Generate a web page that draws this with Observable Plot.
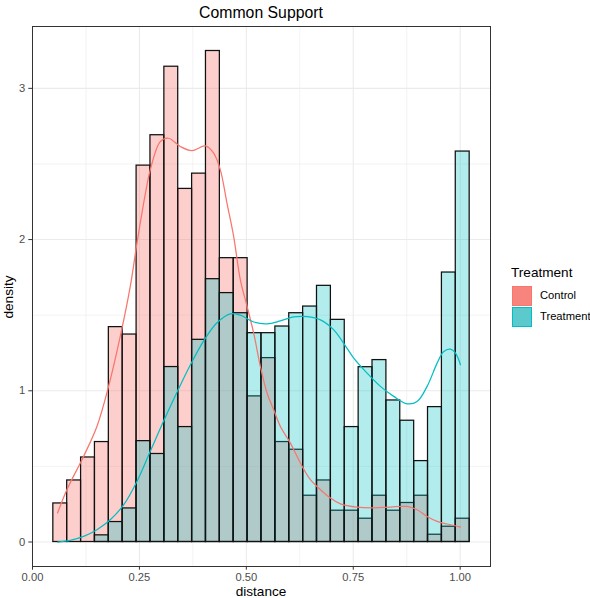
<!DOCTYPE html>
<html><head><meta charset="utf-8">
<script src="https://cdn.jsdelivr.net/npm/d3@7"></script>
<script src="https://cdn.jsdelivr.net/npm/@observablehq/plot@0.6"></script>
<style>
body{margin:0;background:#fff;font-family:"Liberation Sans",Arial,Helvetica,sans-serif;}
#wrap{position:relative;width:590px;height:598px;overflow:hidden;}
#wrap svg{position:absolute;left:0;top:0;}
.t{position:absolute;white-space:nowrap;color:#000;line-height:1;}
.key{position:absolute;width:20px;height:20px;box-sizing:border-box;}
</style></head><body>
<div id="wrap"></div>
<script>
// histogram bin edges (30 bins)
const binEdges = [0.0487,0.0811,0.1136,0.1460,0.1785,0.2109,0.2434,0.2758,0.3083,0.3407,0.3732,0.4056,0.4381,0.4705,0.5030,0.5354,0.5679,0.6003,0.6328,0.6652,0.6977,0.7301,0.7626,0.7950,0.8275,0.8599,0.8924,0.9248,0.9573,0.9897,1.0222];
const controlDensity = [0.255,0.407,0.559,0.661,1.421,1.372,2.489,2.690,3.143,2.335,2.436,3.247,1.877,1.877,0.963,1.216,0.661,0.610,0.306,0.407,0.207,0.207,0.154,0.306,0.207,0.258,0.306,0.048,0.101,0.154];
const treatmentDensity = [0,0,0,0.044,0.132,0.222,0.667,0.582,1.157,0.760,1.337,1.738,1.646,1.513,1.381,1.381,1.425,1.513,1.557,1.694,1.469,0.760,1.156,1.203,0.936,0.802,0.535,0.892,1.782,2.582];
// kernel density curves
const controlCurveX = [0.0586,0.0804,0.1194,0.1506,0.1779,0.2068,0.2286,0.2442,0.2637,0.2754,0.2988,0.3183,0.3456,0.3729,0.4041,0.4236,0.4392,0.4548,0.4704,0.4860,0.5016,0.5172,0.5328,0.5484,0.5640,0.5796,0.6030,0.6264,0.6498,0.6732,0.6966,0.7200,0.7589,0.7979,0.8369,0.8759,0.8993,0.9227,0.9461,0.9695,1.0007];
const controlCurveY = [0.192,0.346,0.566,0.764,1.029,1.381,1.690,1.975,2.300,2.461,2.648,2.670,2.615,2.588,2.619,2.571,2.461,2.240,2.020,1.734,1.560,1.381,1.161,0.985,0.874,0.764,0.654,0.522,0.412,0.346,0.291,0.252,0.230,0.226,0.231,0.235,0.213,0.169,0.136,0.119,0.099];
const treatmentCurveX = [0.0586,0.0882,0.1194,0.1506,0.1818,0.2130,0.2442,0.2754,0.3066,0.3378,0.3690,0.4002,0.4314,0.4626,0.4860,0.5172,0.5484,0.5796,0.6108,0.6420,0.6732,0.7044,0.7356,0.7511,0.7823,0.8135,0.8447,0.8759,0.8993,0.9227,0.9461,0.9617,0.9773,0.9890,1.0007];
const treatmentCurveY = [0.000,0.011,0.037,0.081,0.147,0.245,0.400,0.600,0.800,0.990,1.170,1.330,1.450,1.509,1.500,1.455,1.443,1.462,1.488,1.490,1.469,1.403,1.280,1.216,1.117,1.029,0.963,0.914,0.929,1.029,1.183,1.260,1.275,1.249,1.172];
const groups = ["Control","Treatment"];
const colors = ["#F8766D","#00BFC4"];
const xTicks = [0,0.25,0.5,0.75,1.0];
const xMinor = [0.125,0.375,0.625,0.875];
const yTicks = [0,1,2,3];
const yMinor = [0.5,1.5,2.5];

const toBars = (vals, g) => vals.map((d,i)=>({x1:binEdges[i], x2:binEdges[i+1], y:d, group:g}));
const toCurve = (xs, ys, g) => xs.map((x,i)=>({x, y:ys[i], group:g}));
const controlBars = toBars(controlDensity, groups[0]);
const treatmentBars = toBars(treatmentDensity, groups[1]);
const controlCurve = toCurve(controlCurveX, controlCurveY, groups[0]);
const treatmentCurve = toCurve(treatmentCurveX, treatmentCurveY, groups[1]);

const font = "'Liberation Sans', Arial, Helvetica, sans-serif";
const chart = Plot.plot({
  width:590, height:598,
  marginLeft:32, marginRight:100, marginTop:26, marginBottom:32,
  x:{domain:[0,1.0709]},
  y:{domain:[-0.162,3.409]},
  style:{fontFamily:font, fontSize:"11px", background:"white", overflow:"visible"},
  marks:[
    Plot.gridX(xMinor,{stroke:"#EBEBEB",strokeOpacity:1,strokeWidth:0.6}),
    Plot.gridY(yMinor,{stroke:"#EBEBEB",strokeOpacity:1,strokeWidth:0.6}),
    Plot.gridX(xTicks,{stroke:"#EBEBEB",strokeOpacity:1,strokeWidth:1.1}),
    Plot.gridY(yTicks,{stroke:"#EBEBEB",strokeOpacity:1,strokeWidth:1.1}),
    Plot.rect(controlBars,{x1:"x1",x2:"x2",y1:0,y2:"y",fill:colors[0],fillOpacity:0.35,stroke:"#111111",strokeWidth:1.25,inset:0}),
    Plot.rect(treatmentBars,{x1:"x1",x2:"x2",y1:0,y2:"y",fill:colors[1],fillOpacity:0.3,stroke:"#111111",strokeWidth:1.25,inset:0}),
    Plot.line(controlCurve,{x:"x",y:"y",stroke:colors[0],strokeWidth:1.25,curve:"catmull-rom"}),
    Plot.line(treatmentCurve,{x:"x",y:"y",stroke:colors[1],strokeWidth:1.25,curve:"catmull-rom"}),
    Plot.frame({stroke:"#333333",strokeWidth:1}),
    Plot.axisX(xTicks,{tickFormat:d3.format(".2f"),tickSize:3.7,tickPadding:3,stroke:"#333333",fill:"#4D4D4D",fontSize:11.2,label:null}),
    Plot.axisY(yTicks,{tickFormat:d3.format("d"),tickSize:3.7,tickPadding:3.5,stroke:"#333333",fill:"#4D4D4D",fontSize:11.2,label:null})
  ]
});
const wrap = document.getElementById("wrap");
wrap.appendChild(chart);

function addText(txt, x, y, size, opts={}) {
  const d = document.createElement("div");
  d.className = "t";
  d.textContent = txt;
  d.style.left = x+"px"; d.style.top = y+"px";
  d.style.fontSize = size+"px";
  d.style.transform = opts.transform || "translate(-50%,-50%)";
  if (opts.color) d.style.color = opts.color;
  wrap.appendChild(d);
  return d;
}
addText("Common Support", 261, 12.5, 15.8);
addText("distance", 261, 592, 13.6);
addText("density", 8.5, 296.5, 13.6, {transform:"translate(-50%,-50%) rotate(-90deg)"});
// legend
addText("Treatment", 511, 272.5, 13.6, {transform:"translate(0,-50%)"});
const keyFill = ["#F8857D","#5CC9CC"];
groups.forEach((g,i)=>{
  const k = document.createElement("div");
  k.className = "key";
  k.style.left = "512px";
  k.style.top = (286 + i*21) + "px";
  k.style.background = keyFill[i];
  k.style.border = "1.2px solid " + colors[i];
  wrap.appendChild(k);
  addText(g, 540, 296 + i*21, 11.2, {transform:"translate(0,-50%)"});
});
</script>
</body></html>
